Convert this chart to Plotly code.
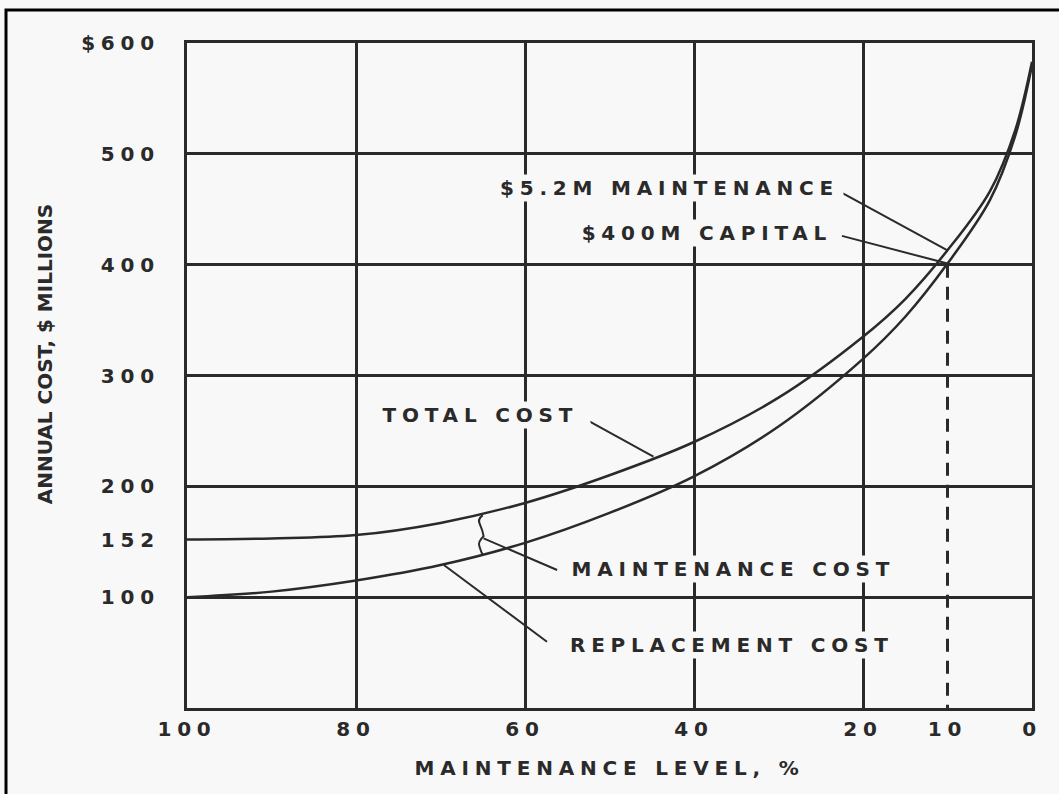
import plotly.graph_objects as go

# ---- data ----
maintenance_level = [100, 90, 80, 70, 60, 50, 40, 30, 20, 15, 10, 5, 2, 0]
total_cost = [152, 153, 156, 167, 185, 210, 240, 280, 335, 369, 413, 466, 521, 583]
replacement_cost = [100, 105, 115, 129, 149, 176, 209, 254, 315, 353, 401, 458, 516, 580]

x_tick_vals = [100, 80, 60, 40, 20, 10, 0]
x_tick_text = ["100", "80", "60", "40", "20", "10", "0"]
x_grid_vals = [80, 60, 40, 20]
y_tick_vals = [100, 152, 200, 300, 400, 500, 600]
y_tick_text = ["100", "152", "200", "300", "400", "500", "$600"]
y_grid_vals = [100, 200, 300, 400, 500]

x_title = "MAINTENANCE LEVEL, %"
y_title = "ANNUAL COST, $ MILLIONS"

marker_level = 10  # dashed reference at 10 %

# annotation texts, centre positions (data units) and box widths (px)
label_texts = ["$5.2M MAINTENANCE", "$400M CAPITAL", "TOTAL COST",
               "MAINTENANCE COST", "REPLACEMENT COST"]
label_x = [42.9, 38.5, 65.3, 35.3, 35.5]
label_y = [469.5, 429, 264.4, 125.4, 56.8]
label_w = [345, 266, 217, 333, 346]

# leader lines: (x0, y0, x1, y1) in data units
leaders = [
    (22.7, 465.6, 10.0, 413.0),
    (22.5, 426.0, 10.0, 401.0),
    (52.7, 259.9, 44.8, 226.7),
    (56.2, 124.5, 64.9, 153.0),
    (57.4, 59.8, 69.6, 129.0),
]
brace_path = ("M 65.0,174 Q 65.7,170 65.3,165 Q 65.0,160 64.9,155 "
              "Q 65.6,150 65.4,146 Q 65.2,141 65.0,138")

INK = "#2a2a2a"
BG = "#f8f8f8"
FONT = "DejaVu Sans"

fig = go.Figure()
fig.add_trace(go.Scatter(x=maintenance_level, y=total_cost, mode="lines",
                         line=dict(color=INK, width=2.5, shape="spline"),
                         name="Total cost", hoverinfo="x+y"))
fig.add_trace(go.Scatter(x=maintenance_level, y=replacement_cost, mode="lines",
                         line=dict(color=INK, width=2.5, shape="spline"),
                         name="Replacement cost", hoverinfo="x+y"))

shapes = []
for (x0, y0, x1, y1) in leaders:
    shapes.append(dict(type="line", xref="x", yref="y", x0=x0, y0=y0, x1=x1, y1=y1,
                       line=dict(color=INK, width=2)))
shapes.append(dict(type="path", xref="x", yref="y", path=brace_path,
                   line=dict(color=INK, width=2)))
shapes.append(dict(type="line", xref="x", yref="y", x0=marker_level, x1=marker_level,
                   y0=400, y1=0, line=dict(color=INK, width=3, dash="13px,9px")))
# outer photo frame
shapes.append(dict(type="rect", xref="paper", yref="paper", x0=-0.2142, x1=1.1,
                   y0=-0.2, y1=1.0496, line=dict(color="#000000", width=3), layer="above"))

annotations = []
for t, x, y, w in zip(label_texts, label_x, label_y, label_w):
    annotations.append(dict(x=x, y=y, xref="x", yref="y", text=t, showarrow=False,
                            xanchor="center", yanchor="middle", width=w, align="center",
                            bgcolor=BG, borderpad=1,
                            font=dict(family=FONT, size=20, color=INK, weight="bold")))
# y-axis title (placed as rotated text, slightly above the plot centre as in the original)
annotations.append(dict(x=-0.168, y=0.532, xref="paper", yref="paper", text=y_title,
                        showarrow=False, textangle=-90, xanchor="center", yanchor="middle",
                        font=dict(family=FONT, size=20, color=INK, weight="bold")))
ytitle_index = len(annotations) - 1

fig.update_layout(
    width=1059, height=794,
    margin=dict(l=187, r=27, t=43, b=86),
    paper_bgcolor=BG, plot_bgcolor=BG,
    showlegend=False,
    shapes=shapes, annotations=annotations,
    font=dict(family=FONT, color=INK),
    xaxis=dict(range=[100, 0], tickmode="array", tickvals=x_tick_vals, ticktext=x_tick_text,
               showgrid=False, zeroline=False, showline=True, mirror=True,
               linecolor=INK, linewidth=3, ticks="", ticklabelstandoff=1,
               tickfont=dict(family=FONT, size=20, color=INK, weight="bold"),
               minor=dict(tickvals=x_grid_vals, showgrid=True, gridcolor=INK, gridwidth=2.5, ticks=""),
               title=dict(text=x_title, standoff=21,
                          font=dict(family=FONT, size=20, color=INK, weight="bold"))),
    yaxis=dict(range=[0, 600], tickmode="array", tickvals=y_tick_vals, ticktext=y_tick_text,
               showgrid=False, zeroline=False, showline=True, mirror=True,
               linecolor=INK, linewidth=3, ticks="", ticklabelstandoff=20,
               tickfont=dict(family=FONT, size=20, color=INK, weight="bold"),
               minor=dict(tickvals=y_grid_vals, showgrid=True, gridcolor=INK, gridwidth=2.5, ticks="")),
)

post = """
document.body.style.margin='0';
document.body.style.overflow='hidden';
var st=document.createElement('style');
st.textContent='svg text{letter-spacing:5.8px;} g.annotation[data-index="%d"] text{letter-spacing:0px !important;}';
document.head.appendChild(st);
""" % ytitle_index

fig.write_html("out.html", config={"displayModeBar": False}, post_script=post)
